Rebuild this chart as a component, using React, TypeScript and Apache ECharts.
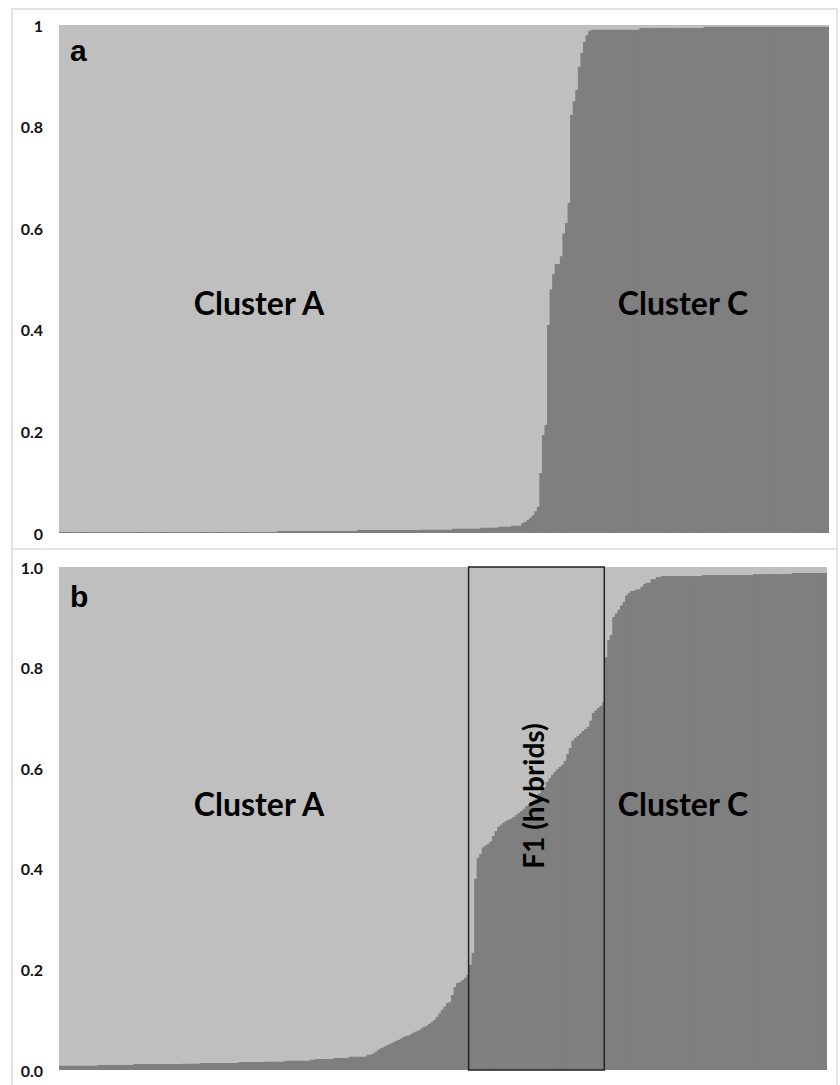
import React, { useEffect, useRef } from "react";
import * as echarts from "echarts";

// ---- data (membership coefficients) ----
const N_SAMPLES = 300;
const SAMPLES: string[] = Array.from({ length: N_SAMPLES }, (_, i) => "S" + (i + 1));

const TICKS_A = ["0", "0.2", "0.4", "0.6", "0.8", "1"];
const TICKS_B = ["0.0", "0.2", "0.4", "0.6", "0.8", "1.0"];

const CLUSTER_NAMES = ["Cluster A", "Cluster C"];
const HYBRID_LABEL = "F1 (hybrids)";
const PANEL_LETTERS = ["a", "b"];

// F1 hybrid block in panel b (sample indices, inclusive)
const F1_START = 160;
const F1_END = 212;

// Panel a: share of Cluster C (dark) per sample, sorted
const CLUSTER_C_A: number[] = [
  0.002, 0.002, 0.002, 0.002, 0.002, 0.002, 0.002, 0.002, 0.002, 0.002, 0.002, 0.002, 0.002, 0.002, 0.002, 0.002, 0.002, 0.002, 0.002, 0.002,
  0.002, 0.002, 0.002, 0.002, 0.002, 0.002, 0.002, 0.002, 0.002, 0.002, 0.002, 0.002, 0.002, 0.002, 0.002, 0.002, 0.002, 0.002, 0.002, 0.002,
  0.002, 0.002, 0.002, 0.002, 0.002, 0.002, 0.002, 0.002, 0.002, 0.002, 0.002, 0.002, 0.002, 0.002, 0.002, 0.002, 0.002, 0.002, 0.002, 0.002,
  0.002, 0.002, 0.002, 0.002, 0.002, 0.002, 0.002, 0.002, 0.002, 0.002, 0.002, 0.002, 0.002, 0.002, 0.002, 0.002, 0.002, 0.002, 0.002, 0.002,
  0.002, 0.002, 0.002, 0.002, 0.002, 0.004, 0.004, 0.004, 0.004, 0.004, 0.004, 0.004, 0.004, 0.004, 0.004, 0.004, 0.004, 0.004, 0.004, 0.004,
  0.004, 0.004, 0.004, 0.004, 0.004, 0.004, 0.004, 0.004, 0.004, 0.004, 0.004, 0.004, 0.004, 0.004, 0.004, 0.004, 0.006, 0.006, 0.006, 0.006,
  0.006, 0.006, 0.006, 0.006, 0.006, 0.006, 0.006, 0.006, 0.006, 0.006, 0.006, 0.006, 0.006, 0.006, 0.006, 0.006, 0.006, 0.006, 0.006, 0.006,
  0.006, 0.007, 0.007, 0.007, 0.007, 0.007, 0.007, 0.007, 0.007, 0.007, 0.007, 0.007, 0.007, 0.009, 0.009, 0.009, 0.009, 0.009, 0.009, 0.009,
  0.009, 0.009, 0.009, 0.009, 0.011, 0.011, 0.011, 0.011, 0.011, 0.011, 0.011, 0.013, 0.013, 0.013, 0.013, 0.013, 0.015, 0.015, 0.015, 0.015,
  0.02, 0.022, 0.026, 0.03, 0.035, 0.043, 0.052, 0.118, 0.193, 0.213, 0.41, 0.48, 0.51, 0.53, 0.53, 0.545, 0.59, 0.61, 0.65, 0.823,
  0.85, 0.872, 0.918, 0.945, 0.967, 0.98, 0.988, 0.991, 0.991, 0.991, 0.991, 0.991, 0.991, 0.991, 0.991, 0.991, 0.991, 0.991, 0.991, 0.991,
  0.991, 0.991, 0.991, 0.991, 0.991, 0.991, 0.994, 0.994, 0.994, 0.994, 0.994, 0.994, 0.994, 0.994, 0.994, 0.994, 0.994, 0.994, 0.994, 0.994,
  0.994, 0.994, 0.994, 0.994, 0.994, 0.994, 0.994, 0.994, 0.994, 0.994, 0.994, 0.997, 0.997, 0.997, 0.997, 0.997, 0.997, 0.997, 0.997, 0.997,
  0.997, 0.997, 0.997, 0.997, 0.997, 0.997, 0.997, 0.997, 0.997, 0.997, 0.997, 0.997, 0.997, 0.997, 0.997, 0.997, 0.997, 0.997, 0.997, 0.997,
  0.997, 0.997, 0.997, 0.997, 0.997, 0.997, 0.997, 0.997, 0.997, 0.997, 0.997, 0.997, 0.997, 0.997, 0.997, 0.997, 0.997, 0.997, 0.997, 0.997,
];

// Panel b: share of Cluster C (dark) per sample, sorted
const CLUSTER_C_B: number[] = [
  0.009, 0.009, 0.009, 0.009, 0.009, 0.009, 0.009, 0.009, 0.009, 0.009, 0.009, 0.009, 0.009, 0.009, 0.009, 0.01, 0.01, 0.01, 0.01, 0.01,
  0.01, 0.01, 0.01, 0.01, 0.01, 0.01, 0.01, 0.01, 0.01, 0.012, 0.012, 0.012, 0.012, 0.012, 0.012, 0.012, 0.012, 0.012, 0.012, 0.012,
  0.012, 0.012, 0.012, 0.012, 0.012, 0.012, 0.012, 0.012, 0.013, 0.013, 0.013, 0.013, 0.013, 0.013, 0.013, 0.014, 0.014, 0.014, 0.014, 0.014,
  0.014, 0.014, 0.014, 0.014, 0.014, 0.014, 0.014, 0.014, 0.014, 0.014, 0.016, 0.016, 0.016, 0.016, 0.016, 0.016, 0.016, 0.016, 0.016, 0.016,
  0.017, 0.017, 0.017, 0.017, 0.017, 0.017, 0.017, 0.017, 0.019, 0.019, 0.019, 0.019, 0.019, 0.019, 0.019, 0.019, 0.019, 0.019, 0.021, 0.021,
  0.022, 0.022, 0.022, 0.022, 0.022, 0.022, 0.022, 0.024, 0.024, 0.024, 0.024, 0.024, 0.024, 0.027, 0.027, 0.027, 0.027, 0.027, 0.027, 0.027,
  0.031, 0.031, 0.033, 0.036, 0.04, 0.043, 0.045, 0.048, 0.05, 0.053, 0.055, 0.058, 0.06, 0.063, 0.066, 0.068, 0.069, 0.072, 0.075, 0.077,
  0.079, 0.083, 0.086, 0.088, 0.092, 0.096, 0.1, 0.106, 0.113, 0.12, 0.126, 0.133, 0.135, 0.149, 0.165, 0.173, 0.175, 0.179, 0.183, 0.189,
  0.209, 0.233, 0.38, 0.422, 0.43, 0.443, 0.447, 0.45, 0.455, 0.465, 0.475, 0.484, 0.488, 0.492, 0.495, 0.498, 0.5, 0.503, 0.507, 0.511,
  0.515, 0.52, 0.525, 0.528, 0.532, 0.538, 0.545, 0.55, 0.555, 0.562, 0.573, 0.58, 0.587, 0.593, 0.598, 0.603, 0.607, 0.615, 0.628, 0.64,
  0.655, 0.66, 0.664, 0.669, 0.674, 0.678, 0.683, 0.695, 0.71, 0.715, 0.72, 0.724, 0.731, 0.821, 0.855, 0.865, 0.901, 0.908, 0.915, 0.924,
  0.931, 0.944, 0.949, 0.953, 0.953, 0.956, 0.956, 0.961, 0.966, 0.969, 0.969, 0.976, 0.976, 0.98, 0.98, 0.982, 0.982, 0.982, 0.982, 0.982,
  0.982, 0.982, 0.982, 0.982, 0.982, 0.982, 0.982, 0.982, 0.982, 0.982, 0.982, 0.984, 0.984, 0.984, 0.984, 0.984, 0.984, 0.984, 0.984, 0.984,
  0.984, 0.984, 0.984, 0.984, 0.984, 0.984, 0.984, 0.984, 0.984, 0.984, 0.984, 0.986, 0.986, 0.986, 0.986, 0.986, 0.986, 0.986, 0.986, 0.986,
  0.986, 0.986, 0.986, 0.986, 0.986, 0.986, 0.988, 0.988, 0.988, 0.988, 0.988, 0.988, 0.988, 0.988, 0.988, 0.988, 0.988, 0.988, 0.988, 0.988,
];

// Cluster A is the complement (membership coefficients sum to 1)
const CLUSTER_A_A = CLUSTER_C_A.map((v) => +(1 - v).toFixed(3));
const CLUSTER_A_B = CLUSTER_C_B.map((v) => +(1 - v).toFixed(3));

const LIGHT = "#bfbfbf";
const DARK = "#7f7f7f";
const LABEL_FONT = "Lato, 'Open Sans', sans-serif";

export default function App() {
  const ref = useRef<HTMLDivElement>(null);

  useEffect(() => {
    document.body.style.margin = "0";
    if (!ref.current) return;
    const chart = echarts.init(ref.current, undefined, { renderer: "svg" });

    const ticks = [TICKS_A, TICKS_B];
    const grids = [
      { left: 59, top: 25, width: 770, height: 508 },
      { left: 59, top: 567, width: 768, height: 503 },
    ];

    const barSeries = (g: number, name: string, data: number[], color: string) => ({
      type: "bar",
      name,
      xAxisIndex: g,
      yAxisIndex: g,
      stack: "p" + g,
      data,
      barWidth: 3.3,
      silent: true,
      itemStyle: { color },
      emphasis: { disabled: true },
    });

    chart.setOption({
      animation: false,
      grid: grids.map((g) => ({
        ...g,
        show: true,
        backgroundColor: LIGHT,
        borderWidth: 0,
        containLabel: false,
      })),
      xAxis: [0, 1].map((g) => ({
        type: "category",
        gridIndex: g,
        data: SAMPLES,
        boundaryGap: true,
        show: false,
      })),
      yAxis: [0, 1].map((g) => ({
        type: "value",
        gridIndex: g,
        min: 0,
        max: 1,
        interval: 0.2,
        axisLine: { show: false },
        axisTick: { show: false },
        splitLine: { show: false },
        axisLabel: {
          margin: 16,
          fontFamily: LABEL_FONT,
          fontWeight: "bold",
          fontSize: 16,
          color: "#111",
          formatter: (v: number) => ticks[g][Math.round(v * 5)],
        },
      })),
      series: [
        barSeries(0, CLUSTER_NAMES[1], CLUSTER_C_A, DARK),
        barSeries(0, CLUSTER_NAMES[0], CLUSTER_A_A, LIGHT),
        barSeries(1, CLUSTER_NAMES[1], CLUSTER_C_B, DARK),
        barSeries(1, CLUSTER_NAMES[0], CLUSTER_A_B, LIGHT),
      ],
    });

    // F1 box from the sample indices, through the axes
    const px = (i: number) => chart.convertToPixel({ xAxisIndex: 1 }, SAMPLES[i]) as number;
    const band = px(F1_START + 1) - px(F1_START);
    const x0 = px(F1_START) - band / 2;
    const x1 = px(F1_END) + band / 2;
    const yTop = chart.convertToPixel({ yAxisIndex: 1 }, 1) as number;
    const yBot = chart.convertToPixel({ yAxisIndex: 1 }, 0) as number;

    const clusterStyle = (text: string) => ({
      text,
      fontFamily: LABEL_FONT,
      fontWeight: "bold",
      fontSize: 32,
      fill: "#000",
      align: "center",
      verticalAlign: "middle",
      textAlign: "center",
      textVerticalAlign: "middle",
    });

    const letterStyle = (text: string) => ({
      text,
      fontFamily: "'Liberation Sans', Arial, sans-serif",
      fontWeight: "bold",
      fontSize: 30,
      fill: "#000",
      align: "left",
      verticalAlign: "middle",
      textAlign: "left",
      textVerticalAlign: "middle",
    });

    chart.setOption({
      graphic: [
        {
          type: "rect",
          silent: true,
          shape: { x: 12, y: 9, width: 825, height: 1100 },
          style: { fill: "none", stroke: "#e3e3e3", lineWidth: 2 },
        },
        {
          type: "line",
          silent: true,
          shape: { x1: 12, y1: 549, x2: 837, y2: 549 },
          style: { stroke: "#e3e3e3", lineWidth: 2 },
        },
        {
          type: "rect",
          silent: true,
          z: 10,
          shape: { x: x0, y: yTop, width: x1 - x0, height: yBot - yTop },
          style: { fill: "none", stroke: "#222", lineWidth: 1.5 },
        },
        { type: "text", z: 11, x: 70, y: 50, style: letterStyle(PANEL_LETTERS[0]) },
        { type: "text", z: 11, x: 70, y: 596, style: letterStyle(PANEL_LETTERS[1]) },
        { type: "text", z: 11, x: 259, y: 302, style: clusterStyle(CLUSTER_NAMES[0]) },
        { type: "text", z: 11, x: 683, y: 302, style: clusterStyle(CLUSTER_NAMES[1]) },
        { type: "text", z: 11, x: 259, y: 803, style: clusterStyle(CLUSTER_NAMES[0]) },
        { type: "text", z: 11, x: 683, y: 803, style: clusterStyle(CLUSTER_NAMES[1]) },
        {
          type: "text",
          z: 11,
          x: (x0 + x1) / 2 - 3,
          y: 796,
          rotation: Math.PI / 2,
          style: { ...clusterStyle(HYBRID_LABEL), fontSize: 28 },
        },
      ],
    });

    return () => chart.dispose();
  }, []);

  return (
    <div
      ref={ref}
      style={{ position: "absolute", left: 0, top: 0, width: 840, height: 1085, background: "#fff" }}
    />
  );
}
